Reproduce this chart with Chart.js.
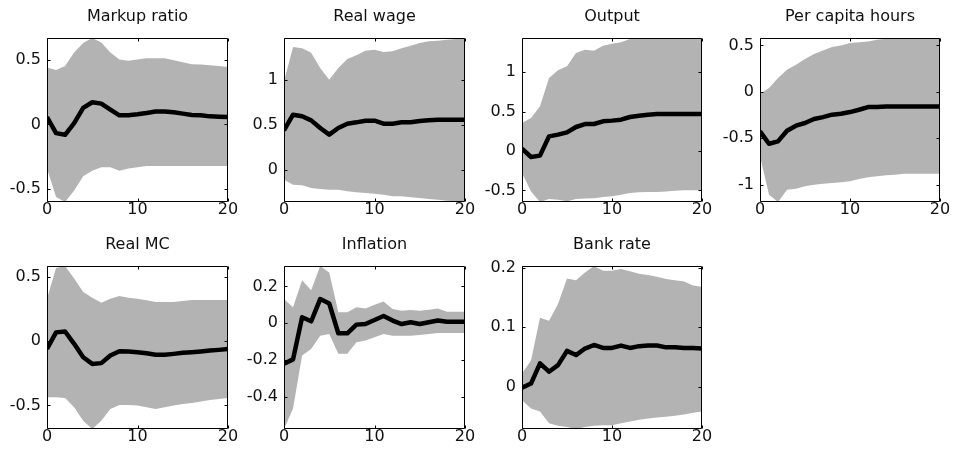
<!DOCTYPE html>
<html>
<head>
<meta charset="utf-8">
<script src="https://cdn.jsdelivr.net/npm/chart.js@4/dist/chart.umd.min.js"></script>
<style>
  html, body { margin: 0; padding: 0; background: #fff; }
  #fig { position: relative; width: 954px; height: 454px; overflow: hidden; background: #fff; }
  #fig canvas { position: absolute; }
</style>
</head>
<body>
<div id="fig"></div>
<script>
// Impulse responses: median path with an error band, horizon 0..20
const horizon = Array.from({ length: 21 }, (_, i) => i);
const xTicks = [0, 10, 20];

const titles = ['Markup ratio', 'Real wage', 'Output', 'Per capita hours', 'Real MC', 'Inflation', 'Bank rate'];

const markupMedian = [0.057, -0.067, -0.08, 0.01, 0.127, 0.171, 0.16, 0.114, 0.07, 0.07, 0.078, 0.088, 0.1, 0.1, 0.093, 0.083, 0.073, 0.07, 0.062, 0.06, 0.057];
const markupUpper  = [0.438, 0.42, 0.45, 0.554, 0.627, 0.666, 0.632, 0.554, 0.5, 0.49, 0.5, 0.51, 0.51, 0.51, 0.495, 0.48, 0.464, 0.462, 0.456, 0.45, 0.443];
const markupLower  = [-0.34, -0.56, -0.598, -0.51, -0.40, -0.357, -0.33, -0.33, -0.357, -0.34, -0.33, -0.32, -0.32, -0.32, -0.32, -0.32, -0.32, -0.32, -0.32, -0.32, -0.32];
const markupTicks  = [-0.5, 0, 0.5];
const markupLabels = ['-0.5', '0', '0.5'];

const wageMedian = [0.437, 0.611, 0.593, 0.548, 0.463, 0.389, 0.463, 0.511, 0.526, 0.544, 0.544, 0.511, 0.511, 0.526, 0.526, 0.54, 0.548, 0.556, 0.556, 0.556, 0.556];
const wageUpper  = [0.98, 1.363, 1.348, 1.30, 1.13, 1.0, 1.13, 1.23, 1.27, 1.32, 1.333, 1.307, 1.315, 1.348, 1.378, 1.407, 1.426, 1.433, 1.444, 1.452, 1.463];
const wageLower  = [-0.111, -0.167, -0.174, -0.204, -0.215, -0.222, -0.222, -0.24, -0.252, -0.26, -0.267, -0.278, -0.296, -0.296, -0.307, -0.315, -0.326, -0.333, -0.344, -0.352, -0.359];
const wageTicks  = [0, 0.5, 1];
const wageLabels = ['0', '0.5', '1'];

const outputMedian = [0.03, -0.076, -0.059, 0.186, 0.208, 0.237, 0.305, 0.343, 0.343, 0.377, 0.386, 0.398, 0.432, 0.449, 0.462, 0.47, 0.47, 0.47, 0.47, 0.47, 0.47];
const outputUpper  = [0.356, 0.42, 0.568, 0.928, 1.025, 1.076, 1.246, 1.288, 1.275, 1.339, 1.364, 1.381, 1.424, 1.43, 1.432, 1.433, 1.434, 1.435, 1.435, 1.436, 1.436];
const outputLower  = [-0.28, -0.513, -0.648, -0.61, -0.62, -0.64, -0.61, -0.605, -0.6, -0.585, -0.576, -0.555, -0.534, -0.525, -0.522, -0.52, -0.513, -0.504, -0.5, -0.5, -0.5];
const outputTicks  = [-0.5, 0, 0.5, 1];
const outputLabels = ['-0.5', '0', '0.5', '1'];

const hoursMedian = [-0.426, -0.559, -0.534, -0.419, -0.365, -0.336, -0.293, -0.272, -0.246, -0.236, -0.218, -0.193, -0.164, -0.164, -0.157, -0.157, -0.157, -0.157, -0.157, -0.157, -0.157];
const hoursUpper  = [-0.024, 0.04, 0.148, 0.238, 0.292, 0.353, 0.407, 0.446, 0.482, 0.5, 0.525, 0.535, 0.543, 0.561, 0.571, 0.576, 0.578, 0.579, 0.58, 0.58, 0.58];
const hoursLower  = [-0.695, -1.108, -1.187, -1.054, -1.043, -1.018, -1.0, -0.99, -0.982, -0.975, -0.964, -0.939, -0.921, -0.91, -0.9, -0.893, -0.882, -0.882, -0.882, -0.882, -0.882];
const hoursTicks  = [-1, -0.5, 0, 0.5];
const hoursLabels = ['-1', '-0.5', '0', '0.5'];

const mcMedian = [-0.06, 0.068, 0.075, -0.021, -0.125, -0.177, -0.171, -0.112, -0.078, -0.08, -0.086, -0.094, -0.106, -0.106, -0.099, -0.091, -0.086, -0.08, -0.073, -0.068, -0.062];
const mcUpper  = [0.33, 0.569, 0.584, 0.486, 0.382, 0.338, 0.299, 0.33, 0.351, 0.338, 0.33, 0.317, 0.304, 0.304, 0.304, 0.312, 0.32, 0.32, 0.32, 0.32, 0.32];
const mcLower  = [-0.436, -0.436, -0.442, -0.514, -0.618, -0.683, -0.618, -0.527, -0.496, -0.496, -0.501, -0.514, -0.527, -0.514, -0.501, -0.488, -0.48, -0.47, -0.457, -0.449, -0.442];
const mcTicks  = [-0.5, 0, 0.5];
const mcLabels = ['-0.5', '0', '0.5'];

const inflationMedian = [-0.221, -0.197, 0.032, 0.01, 0.131, 0.107, -0.055, -0.055, -0.008, -0.005, 0.017, 0.039, 0.014, -0.005, 0.005, -0.005, 0.005, 0.014, 0.008, 0.008, 0.008];
const inflationUpper  = [0.131, 0.086, 0.233, 0.179, 0.311, 0.275, 0.059, 0.059, 0.086, 0.08, 0.1, 0.118, 0.077, 0.068, 0.072, 0.068, 0.073, 0.08, 0.062, 0.062, 0.062];
const inflationLower  = [-0.576, -0.464, -0.176, -0.14, -0.068, -0.059, -0.167, -0.167, -0.104, -0.095, -0.077, -0.059, -0.068, -0.068, -0.068, -0.064, -0.059, -0.053, -0.053, -0.053, -0.053];
const inflationTicks  = [-0.4, -0.2, 0, 0.2];
const inflationLabels = ['-0.4', '-0.2', '0', '0.2'];

const rateMedian = [-0.002, 0.005, 0.039, 0.025, 0.036, 0.06, 0.053, 0.064, 0.07, 0.065, 0.065, 0.069, 0.065, 0.068, 0.069, 0.069, 0.066, 0.066, 0.065, 0.065, 0.064];
const rateUpper  = [0.022, 0.044, 0.116, 0.111, 0.139, 0.182, 0.179, 0.192, 0.203, 0.195, 0.195, 0.198, 0.194, 0.19, 0.188, 0.185, 0.181, 0.179, 0.177, 0.17, 0.168];
const rateLower  = [-0.023, -0.037, -0.042, -0.062, -0.066, -0.068, -0.0715, -0.068, -0.066, -0.065, -0.065, -0.062, -0.059, -0.056, -0.054, -0.052, -0.051, -0.049, -0.047, -0.044, -0.042];
const rateTicks  = [0, 0.1, 0.2];
const rateLabels = ['0', '0.1', '0.2'];

const panels = [
  { median: markupMedian, upper: markupUpper, lower: markupLower, ticks: markupTicks, labels: markupLabels },
  { median: wageMedian, upper: wageUpper, lower: wageLower, ticks: wageTicks, labels: wageLabels },
  { median: outputMedian, upper: outputUpper, lower: outputLower, ticks: outputTicks, labels: outputLabels },
  { median: hoursMedian, upper: hoursUpper, lower: hoursLower, ticks: hoursTicks, labels: hoursLabels },
  { median: mcMedian, upper: mcUpper, lower: mcLower, ticks: mcTicks, labels: mcLabels },
  { median: inflationMedian, upper: inflationUpper, lower: inflationLower, ticks: inflationTicks, labels: inflationLabels },
  { median: rateMedian, upper: rateUpper, lower: rateLower, ticks: rateTicks, labels: rateLabels }
];

// Subplot grid geometry (plot box edges in page pixels)
const colLeft  = [47, 284, 522, 760];
const colRight = [228, 465, 702, 940];
const rowTop    = [38, 266];
const rowBottom = [202, 429];
const Y_AXIS_W = 46, TITLE_H = 39, X_AXIS_H = 27, RIGHT_PAD = 14;

const FONT = "'DejaVu Sans', sans-serif";
const BAND = '#b3b3b3';
const TICK_LEN = 3;

// Box outline plus inward tick marks on all four sides
const boxPlugin = {
  id: 'matlabBox',
  afterDatasetsDraw(chart) {
    const { ctx, chartArea: a, scales: { x, y } } = chart;
    const L = Math.round(a.left) + 0.5, R = Math.round(a.right) - 0.5;
    const T = Math.round(a.top) + 0.5, B = Math.round(a.bottom) - 0.5;
    ctx.save();
    ctx.strokeStyle = '#000';
    ctx.lineWidth = 1;
    ctx.beginPath();
    ctx.rect(L, T, R - L, B - T);
    x.ticks.forEach(t => {
      const px = Math.round(x.getPixelForValue(t.value)) + 0.5;
      ctx.moveTo(px, B); ctx.lineTo(px, B - TICK_LEN);
      ctx.moveTo(px, T); ctx.lineTo(px, T + TICK_LEN);
    });
    y.ticks.forEach(t => {
      const py = Math.round(y.getPixelForValue(t.value)) + 0.5;
      ctx.moveTo(L, py); ctx.lineTo(L + TICK_LEN, py);
      ctx.moveTo(R, py); ctx.lineTo(R - TICK_LEN, py);
    });
    ctx.stroke();
    ctx.restore();
  }
};

const fig = document.getElementById('fig');

panels.forEach((p, i) => {
  const row = Math.floor(i / 4), col = i % 4;
  const boxW = colRight[col] - colLeft[col];
  const boxH = rowBottom[row] - rowTop[row];
  const canvas = document.createElement('canvas');
  const w = boxW + Y_AXIS_W + RIGHT_PAD;
  const h = boxH + TITLE_H + X_AXIS_H;
  canvas.width = w; canvas.height = h;
  canvas.style.left = (colLeft[col] - Y_AXIS_W) + 'px';
  canvas.style.top = (rowTop[row] - TITLE_H) + 'px';
  canvas.style.width = w + 'px'; canvas.style.height = h + 'px';
  fig.appendChild(canvas);

  const yMin = Math.min(...p.lower);
  const yMax = Math.max(...p.upper);

  new Chart(canvas, {
    type: 'line',
    data: {
      labels: horizon,
      datasets: [
        { data: p.median, borderColor: '#000', borderWidth: 4.5, pointRadius: 0, fill: false, order: 0, borderJoinStyle: 'round' },
        { data: p.upper, borderWidth: 0, borderColor: 'rgba(0,0,0,0)', backgroundColor: BAND, pointRadius: 0, fill: '+1', order: 1 },
        { data: p.lower, borderWidth: 0, borderColor: 'rgba(0,0,0,0)', pointRadius: 0, fill: false, order: 2 }
      ]
    },
    options: {
      responsive: false,
      animation: false,
      devicePixelRatio: 1,
      layout: { padding: { left: 0, right: RIGHT_PAD, top: 0, bottom: 0 } },
      parsing: { xAxisKey: undefined },
      plugins: {
        legend: { display: false },
        tooltip: { enabled: false },
        title: {
          display: true,
          text: titles[i],
          fullSize: false,
          color: '#111',
          font: { family: FONT, size: 16, weight: 'normal', lineHeight: 1.2 },
          padding: { top: 7.9, bottom: 11.9 }
        }
      },
      scales: {
        x: {
          type: 'linear',
          min: 0, max: 20,
          grid: { display: false, drawTicks: false },
          border: { display: false },
          afterBuildTicks: s => { s.ticks = xTicks.map(v => ({ value: v })); },
          afterFit: s => { s.height = X_AXIS_H; },
          ticks: {
            maxRotation: 0, autoSkip: false, padding: 0,
            color: '#111',
            font: { family: FONT, size: 16, lineHeight: 1 },
            callback: v => String(v)
          }
        },
        y: {
          type: 'linear',
          min: yMin, max: yMax,
          grid: { display: false, drawTicks: false },
          border: { display: false },
          afterBuildTicks: s => { s.ticks = p.ticks.map(v => ({ value: v })); },
          afterFit: s => { s.width = Y_AXIS_W; },
          ticks: {
            autoSkip: false, padding: 6,
            color: '#111',
            font: { family: FONT, size: 16, lineHeight: 1 },
            callback: (v, idx) => p.labels[idx]
          }
        }
      }
    },
    plugins: [boxPlugin]
  });
});
</script>
</body>
</html>
